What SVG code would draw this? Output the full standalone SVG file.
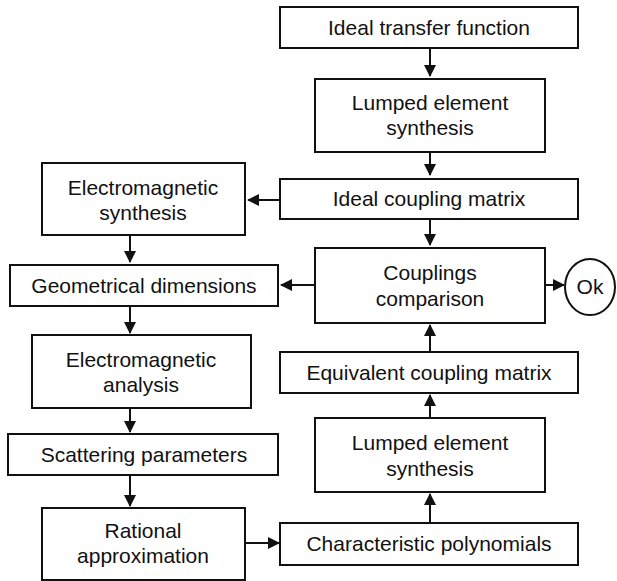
<svg xmlns="http://www.w3.org/2000/svg" width="617" height="581" viewBox="0 0 617 581">
<style>
.box{fill:#fff;stroke:#111;stroke-width:2}
.t{font-family:"Liberation Sans",Arial,sans-serif;font-size:21px;fill:#111;text-anchor:middle}
.c{fill:none;stroke:#111;stroke-width:2}
</style>
<defs>
<marker id="ah" viewBox="0 0 12 12" refX="11" refY="6" markerWidth="12" markerHeight="12" markerUnits="userSpaceOnUse" orient="auto">
<path d="M0,0 L12,6 L0,12 Z" fill="#111"/>
</marker>
</defs>
<rect width="617" height="581" fill="#fff"/>
<g id="connectors">
<line class="c" x1="430" y1="48" x2="430" y2="76" marker-end="url(#ah)"/>
<line class="c" x1="430" y1="152" x2="430" y2="175" marker-end="url(#ah)"/>
<line class="c" x1="280" y1="200" x2="248" y2="200" marker-end="url(#ah)"/>
<line class="c" x1="430" y1="219" x2="430" y2="245" marker-end="url(#ah)"/>
<line class="c" x1="130" y1="235" x2="130" y2="262" marker-end="url(#ah)"/>
<line class="c" x1="315" y1="285" x2="281" y2="285" marker-end="url(#ah)"/>
<line class="c" x1="545" y1="285" x2="564" y2="285" marker-end="url(#ah)"/>
<line class="c" x1="130" y1="306" x2="130" y2="333" marker-end="url(#ah)"/>
<line class="c" x1="430" y1="352" x2="430" y2="325" marker-end="url(#ah)"/>
<line class="c" x1="130" y1="408" x2="130" y2="432" marker-end="url(#ah)"/>
<line class="c" x1="430" y1="418" x2="430" y2="395" marker-end="url(#ah)"/>
<line class="c" x1="130" y1="475" x2="130" y2="506" marker-end="url(#ah)"/>
<line class="c" x1="430" y1="523" x2="430" y2="494" marker-end="url(#ah)"/>
<line class="c" x1="245" y1="543" x2="279" y2="543" marker-end="url(#ah)"/>
</g>
<g id="n1"><rect class="box" x="280" y="7" width="298" height="41"/><text class="t" x="429" y="35">Ideal transfer function</text></g>
<g id="n2"><rect class="box" x="315" y="79" width="230" height="73"/><text class="t" x="430" y="110">Lumped element</text><text class="t" x="430" y="135">synthesis</text></g>
<g id="n3"><rect class="box" x="280" y="179" width="298" height="40"/><text class="t" x="429" y="206">Ideal coupling matrix</text></g>
<g id="n4"><rect class="box" x="42" y="163" width="203" height="72"/><text class="t" x="143" y="195">Electromagnetic</text><text class="t" x="143" y="220">synthesis</text></g>
<g id="n5"><rect class="box" x="315" y="248" width="230" height="75"/><text class="t" x="430" y="280">Couplings</text><text class="t" x="430" y="306">comparison</text></g>
<g id="n6"><rect class="box" x="10" y="265" width="268" height="41"/><text class="t" x="144" y="293">Geometrical dimensions</text></g>
<g id="n7"><ellipse class="box" cx="590" cy="287" rx="25" ry="28"/><text class="t" x="590" y="294">Ok</text></g>
<g id="n8"><rect class="box" x="280" y="352" width="298" height="41"/><text class="t" x="429" y="380">Equivalent coupling matrix</text></g>
<g id="n9"><rect class="box" x="32" y="335" width="219" height="73"/><text class="t" x="141" y="367">Electromagnetic</text><text class="t" x="141" y="392">analysis</text></g>
<g id="n10"><rect class="box" x="315" y="418" width="230" height="74"/><text class="t" x="430" y="450">Lumped element</text><text class="t" x="430" y="476">synthesis</text></g>
<g id="n11"><rect class="box" x="8" y="434" width="270" height="41"/><text class="t" x="144" y="462">Scattering parameters</text></g>
<g id="n12"><rect class="box" x="42" y="508" width="203" height="72"/><text class="t" x="143" y="538">Rational</text><text class="t" x="143" y="563">approximation</text></g>
<g id="n13"><rect class="box" x="280" y="523" width="298" height="42"/><text class="t" x="429" y="551">Characteristic polynomials</text></g>
</svg>
